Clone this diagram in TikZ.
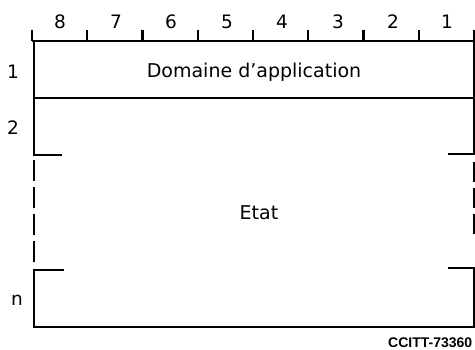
\documentclass[tikz,border=0pt]{standalone}
\usepackage{fontspec}
\setmainfont{DejaVu Sans}
\newfontfamily\codefont{Liberation Sans}
\begin{document}
\begin{tikzpicture}[x=1pt,y=-1pt,
  frame/.style={line width=2.4pt},
  dig/.style={font=\fontsize{18.5}{18.5}\selectfont, inner sep=0pt},
  lbl/.style={font=\fontsize{19}{19}\selectfont, inner sep=0pt},
  code/.style={font=\codefont\bfseries\fontsize{14}{14}\selectfont, inner sep=0pt, anchor=west}]
\useasboundingbox (0,0) rectangle (475,350);
% top ruler
\draw[frame] (32,41) -- (474,41);
\foreach \i in {0,...,8}{
  \draw[frame] ({32+55.25*\i},30) -- ({32+55.25*\i},41);
}
\foreach \d/\x in {8/60,7/116,6/171,5/227,4/282,3/338,2/393,1/447}{
  \node[dig] (d\d) at (\x,22) {\d};
}
% row 1
\draw[frame] (34,41) -- (34,155) -- (62,155);
\draw[frame] (34,98) -- (474,98);
\draw[frame] (474,41) -- (474,154) -- (448,154);
% dashed sides
\draw[frame, dash pattern=on 21pt off 6pt] (34,160) -- (34,265);
\draw[frame, dash pattern=on 20pt off 6pt] (474,162) -- (474,234);
% lower part
\draw[frame] (64,270) -- (34,270) -- (34,327) -- (474,327) -- (474,268) -- (448,268);
% labels
\node[dig] (r1) at (13,72) {1};
\node[dig] (r2) at (13,128) {2};
\node[dig] (rn) at (17,300) {n};
\node[lbl] (title) at (254,72) {Domaine d’application};
\node[lbl] (etat) at (259,213) {Etat};
\node[code] (code) at (388,343) {CCITT-73360};
\end{tikzpicture}
\end{document}
